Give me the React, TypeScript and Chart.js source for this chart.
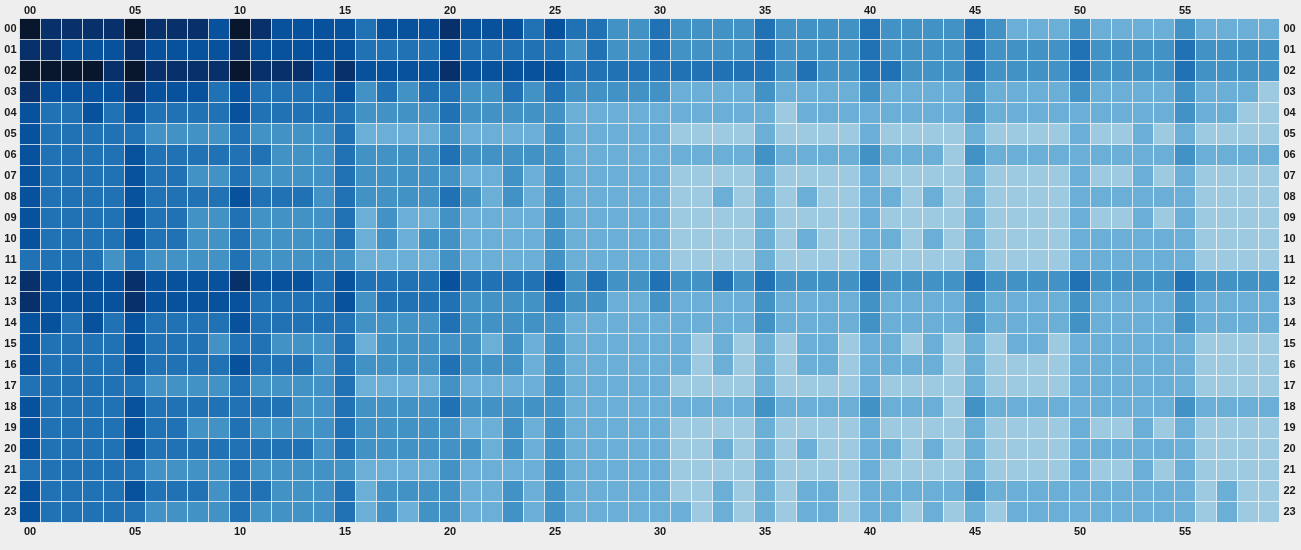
import { useEffect, useRef } from 'react';
import { Chart, registerables, ChartConfiguration } from 'chart.js';

Chart.register(...registerables);

// Minute columns and hour rows
const minutes = Array.from({ length: 60 }, (_, i) => String(i).padStart(2, '0'));
const hours = Array.from({ length: 24 }, (_, i) => String(i).padStart(2, '0'));

// Colour for each intensity level (1 = lightest, 7 = darkest)
const palette = ['#9ecae1', '#6baed6', '#4292c6', '#2171b5', '#08519c', '#08306b', '#08162e'];

// Intensity level per minute, one array per hour
const h00 = [7,6,6,6,6,7,6,6,6,5,7,6,5,5,5,5,4,5,5,5, 6,5,5,5,4,5,4,4,3,3,4,3,3,3,3,4,3,3,3,3, 4,3,3,3,3,4,3,2,2,2,3,2,2,2,2,3,2,2,2,2];
const h01 = [6,6,5,5,5,6,5,5,5,5,6,5,5,5,5,5,4,4,4,4, 5,4,4,4,4,4,3,4,3,3,4,3,3,3,3,4,3,3,3,3, 4,3,3,3,3,4,3,3,3,3,4,3,3,3,3,4,3,3,3,3];
const h02 = [7,7,7,7,6,7,6,6,6,6,7,6,6,6,5,6,5,5,5,5, 6,5,5,5,5,5,4,4,4,4,4,4,4,4,4,4,3,4,3,3, 4,4,3,3,3,4,3,3,3,3,4,3,3,3,3,4,3,3,3,3];
const h03 = [6,5,5,5,5,6,5,5,5,4,5,4,4,4,4,5,3,4,3,4, 4,3,3,4,3,4,3,3,3,3,3,2,2,2,2,3,2,2,2,2, 3,2,2,2,2,3,2,2,2,2,3,2,2,2,2,3,2,2,2,1];
const h04 = [5,4,4,5,4,5,4,4,4,4,5,4,4,4,4,4,3,3,3,3, 4,3,3,3,3,3,2,2,2,2,2,2,2,2,2,2,1,2,2,2, 2,2,2,2,2,3,2,2,2,2,2,2,2,2,2,3,2,2,1,1];
const h05 = [5,4,4,4,4,4,3,3,3,3,4,3,3,3,3,4,2,2,2,2, 3,2,2,2,2,3,2,2,2,2,2,1,1,1,1,2,1,1,1,1, 2,1,1,1,1,2,1,1,1,1,2,1,1,2,1,2,1,1,1,1];
const h06 = [5,4,4,4,4,5,4,4,4,4,4,4,3,3,3,4,3,3,3,3, 4,3,3,3,3,3,2,2,2,2,2,2,2,2,2,3,2,2,2,2, 3,2,2,2,1,3,2,2,2,2,2,2,2,2,2,3,2,2,2,2];
const h07 = [5,4,4,4,4,5,4,4,3,3,4,3,3,3,3,4,3,3,3,3, 3,2,2,3,2,3,2,2,2,2,2,1,1,1,1,2,1,1,1,1, 2,1,1,1,1,2,1,1,1,1,2,1,1,2,1,2,1,1,1,1];
const h08 = [5,4,4,4,4,5,4,4,4,4,5,4,4,4,3,4,3,3,3,3, 4,3,2,3,2,3,2,2,2,2,2,1,1,2,1,2,1,2,1,1, 2,2,1,2,1,2,1,1,1,1,2,2,2,2,2,2,1,1,1,1];
const h09 = [5,4,4,4,4,5,4,4,3,3,4,3,3,3,3,4,2,3,2,2, 3,2,2,2,2,3,2,2,2,2,2,1,1,1,1,2,1,1,1,1, 2,1,1,1,1,2,1,1,1,1,2,1,1,2,1,2,1,1,1,1];
const h10 = [5,4,4,4,4,5,4,4,3,3,4,3,3,3,3,4,2,3,2,3, 3,2,2,2,2,3,2,2,2,2,2,1,1,1,1,2,1,2,1,1, 2,2,1,2,1,2,1,1,1,1,2,2,2,2,2,2,1,1,1,1];
const h11 = [4,4,4,4,3,4,3,3,3,3,4,3,3,3,3,3,2,2,2,2, 3,2,2,2,2,3,2,2,2,2,2,1,1,1,1,2,1,1,1,1, 2,1,1,1,1,2,1,1,1,1,2,2,2,2,2,2,1,1,1,1];
const h12 = [6,5,5,5,5,6,5,5,5,5,6,5,5,5,4,5,4,4,4,4, 5,4,4,4,4,5,3,4,3,3,4,3,3,4,3,4,3,3,3,3, 4,3,3,3,3,4,3,3,3,3,4,3,3,3,3,4,3,3,3,3];
const h13 = [6,5,5,5,5,6,5,5,5,5,5,4,4,4,4,5,3,4,4,4, 4,3,3,3,3,4,3,3,2,2,3,2,2,2,2,3,2,2,2,2, 3,2,2,2,2,3,2,2,2,2,3,2,2,2,2,3,2,2,2,2];
const h14 = [5,5,4,5,4,5,4,4,4,4,5,4,4,4,4,4,3,3,3,3, 4,3,3,3,3,3,2,2,2,2,2,2,2,2,2,3,2,2,2,2, 3,2,2,2,2,3,2,2,2,2,3,2,2,2,2,3,2,2,2,2];
const h15 = [5,4,4,4,4,5,4,4,4,3,4,4,3,3,3,4,2,3,3,3, 3,3,2,3,2,3,2,2,2,2,2,2,1,2,1,2,1,2,2,1, 2,2,1,2,1,2,1,2,2,1,2,2,2,2,2,2,1,1,1,1];
const h16 = [5,4,4,4,4,5,4,4,4,4,5,4,4,4,3,4,3,3,3,3, 4,3,3,3,2,3,2,2,2,2,2,2,1,2,1,2,1,2,2,1, 2,2,2,2,1,2,1,1,1,1,2,2,2,2,2,2,1,1,1,1];
const h17 = [4,4,4,4,4,4,3,3,3,3,4,3,3,3,3,4,2,2,2,2, 3,2,2,2,2,3,2,2,2,2,2,1,1,1,1,2,1,1,1,1, 2,1,1,1,1,2,1,1,1,1,2,2,2,2,2,2,1,1,1,1];
const h18 = [5,4,4,4,4,5,4,4,4,4,4,4,4,3,3,4,3,3,3,3, 4,3,3,3,3,3,2,2,2,2,2,2,2,2,2,3,2,2,2,2, 3,2,2,2,1,3,2,2,2,2,2,2,2,2,2,3,2,2,2,2];
const h19 = [5,4,4,4,4,5,4,4,3,3,4,3,3,3,3,4,3,3,3,3, 3,2,2,3,2,3,2,2,2,2,2,1,1,1,1,2,1,1,1,1, 2,1,1,1,1,2,1,1,1,1,2,1,1,2,1,2,1,1,1,1];
const h20 = [5,4,4,4,4,5,4,4,4,4,4,4,4,4,3,4,3,3,3,3, 3,3,2,3,2,3,2,2,2,2,2,1,1,2,1,2,1,2,1,1, 2,2,1,2,1,2,1,1,1,1,2,2,2,2,2,2,1,1,1,1];
const h21 = [4,4,4,4,4,4,3,3,3,3,4,3,3,3,3,3,2,2,2,2, 3,2,2,2,2,3,2,2,2,2,2,1,1,1,1,2,1,1,1,1, 2,1,1,1,1,2,1,1,1,1,2,1,1,2,1,2,1,1,1,1];
const h22 = [5,4,4,4,4,5,4,4,4,3,4,4,3,3,3,4,2,3,3,3, 3,2,2,3,2,3,2,2,2,2,2,1,1,2,1,2,1,2,2,1, 2,2,2,2,2,3,2,2,2,2,2,2,2,2,2,2,1,2,1,1];
const h23 = [5,4,4,4,4,4,3,3,3,3,4,3,3,3,3,4,2,3,2,3, 3,2,2,3,2,3,2,2,2,2,2,2,1,2,1,2,1,2,2,1, 2,2,1,2,1,2,1,2,2,2,2,2,2,2,2,2,1,2,1,1];

const rows = [h00, h01, h02, h03, h04, h05, h06, h07, h08, h09, h10, h11,
  h12, h13, h14, h15, h16, h17, h18, h19, h20, h21, h22, h23];

const tickFont = { family: '"Liberation Sans", Arial, sans-serif', size: 11, weight: 'bold' as const };
const tickColor = '#1a1a1a';

const xAxis = (position: 'top' | 'bottom', height: number, padding: number) => ({
  type: 'category' as const,
  labels: minutes,
  position,
  offset: true,
  stacked: true,
  grid: { display: false, drawTicks: false },
  border: { display: false },
  ticks: {
    autoSkip: false,
    maxRotation: 0,
    padding,
    font: tickFont,
    color: tickColor,
    callback: (_v: any, i: number) => (i % 5 === 0 ? minutes[i] : ''),
  },
  afterFit: (s: any) => {
    s.height = height;
  },
});

const yAxis = (position: 'left' | 'right', width: number, padding: number) => ({
  type: 'linear' as const,
  position,
  min: 0,
  max: 24,
  reverse: true,
  stacked: true,
  grid: { display: false, drawTicks: false },
  border: { display: false },
  afterBuildTicks: (s: any) => {
    s.ticks = hours.map((_, i) => ({ value: i + 0.5 }));
  },
  ticks: {
    padding,
    font: tickFont,
    color: tickColor,
    callback: (_v: any, i: number) => hours[i],
  },
  afterFit: (s: any) => {
    s.width = width;
  },
});

export default function App() {
  const canvasRef = useRef<HTMLCanvasElement>(null);
  const chartRef = useRef<Chart | null>(null);

  useEffect(() => {
    document.body.style.margin = '0';
    document.body.style.background = '#eeeeee';
    if (!canvasRef.current) return;
    if (chartRef.current) chartRef.current.destroy();

    const config: ChartConfiguration = {
      type: 'bar',
      data: {
        labels: minutes,
        datasets: rows.map((row, h) => ({
          label: hours[h],
          data: row.map(() => 1),
          backgroundColor: row.map((v) => palette[v - 1]),
          borderColor: '#ffffff',
          borderWidth: 0.6,
          borderSkipped: false,
          barPercentage: 1,
          categoryPercentage: 1,
          xAxisID: 'x',
          yAxisID: 'y',
        })),
      },
      options: {
        animation: false,
        responsive: true,
        maintainAspectRatio: false,
        events: [],
        layout: { padding: 0 },
        plugins: {
          legend: { display: false },
          tooltip: { enabled: false },
        },
        scales: {
          x: xAxis('bottom', 27.5, 3),
          x2: xAxis('top', 18.5, 1),
          y: yAxis('left', 19.5, 3),
          y2: yAxis('right', 21.5, 4),
        } as any,
      },
    };

    chartRef.current = new Chart(canvasRef.current, config);

    return () => {
      if (chartRef.current) {
        chartRef.current.destroy();
        chartRef.current = null;
      }
    };
  }, []);

  return (
    <div style={{ position: 'relative', width: '1301px', height: '550px', background: '#eeeeee' }}>
      <canvas ref={canvasRef}></canvas>
    </div>
  );
}
